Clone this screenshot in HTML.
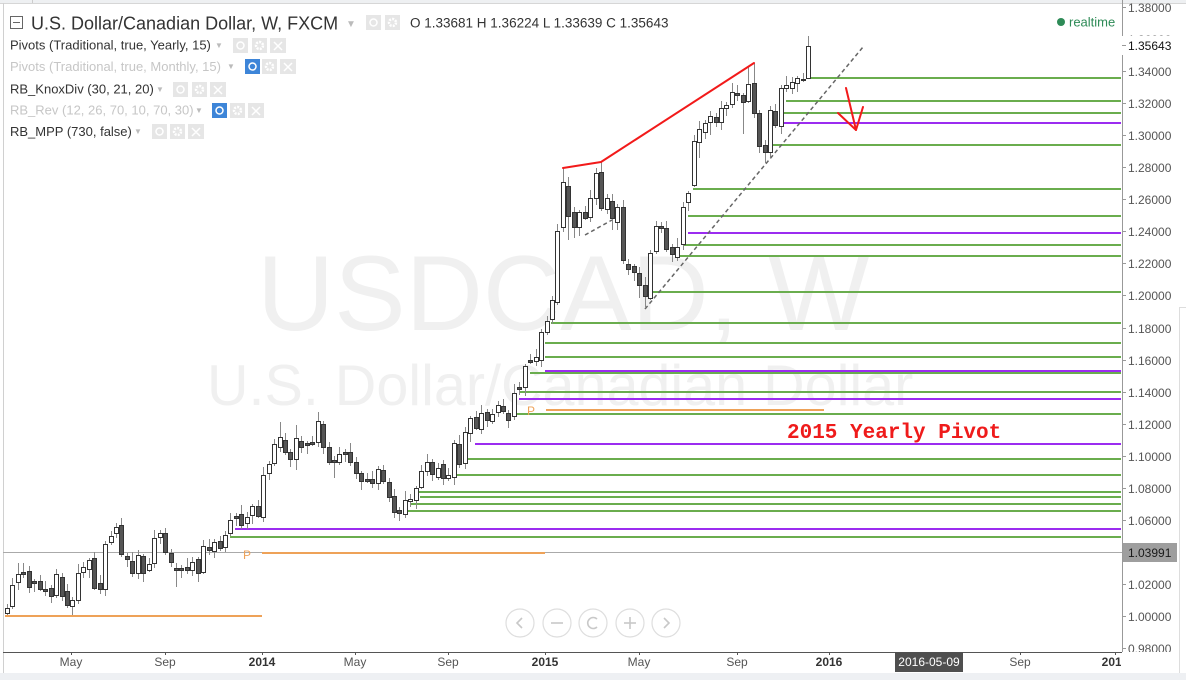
<!DOCTYPE html>
<html><head><meta charset="utf-8"><style>
html,body{margin:0;padding:0;background:#fff;}
svg{display:block;font-family:"Liberation Sans",Arial,sans-serif;}
</style></head><body>
<svg width="1186" height="680" viewBox="0 0 1186 680" xmlns="http://www.w3.org/2000/svg">
<defs><clipPath id="ax"><rect x="1123" y="0" width="63" height="652"/></clipPath>
<clipPath id="xa"><rect x="0" y="640" width="1121" height="40"/></clipPath></defs>
<rect width="1186" height="680" fill="#fff"/>
<!-- frame -->
<rect x="0" y="0" width="1186" height="3" fill="#eef0f2"/>
<line x1="0" y1="3.5" x2="1186" y2="3.5" stroke="#d6d6d6"/>
<line x1="32.5" y1="0" x2="32.5" y2="3" stroke="#ccc"/>
<line x1="3.5" y1="3" x2="3.5" y2="680" stroke="#d0d0d0"/>
<rect x="0" y="673" width="1186" height="7" fill="#eef0f3"/>
<line x1="1179.5" y1="307" x2="1179.5" y2="673" stroke="#ddd"/>
<line x1="1179" y1="307.5" x2="1186" y2="307.5" stroke="#ddd"/>
<!-- watermark -->
<text x="257" y="330" font-size="107" fill="#f0f0f0">USDCAD, W</text>
<text x="207" y="405" font-size="57.5" fill="#f0f0f0">U.S. Dollar/Canadian Dollar</text>
<line x1="3" y1="552.5" x2="1122" y2="552.5" stroke="#aaa" stroke-width="1"/>
<!-- pivot lines -->
<g stroke-width="2" fill="none" shape-rendering="crispEdges">
<g stroke="#6aad4e">
<path d="M810 78H1121M786 101H1121M784 113H1121M773 145H1121M693 189H1121M688 216H1121M683 245H1121M680 256H1121M653 292H1121M551 323H1121M545 343H1121M545 357H1121M530 373H1121M520 392H1121M517 414H1121M467 459H1121M457 475H1121M418 492H1121M420 497H1121M410 504H1121M408 511H1121M230 537H1121"/>
</g>
<g stroke="#9b2cf0">
<path d="M783 123H1121M688 233H1121M545 371H1121M519 399H1121M475 444H1121M235 529H1121"/>
</g>
<g stroke="#eea258">
<path d="M546 410H824M262 553H545M5 616H262"/>
</g>
</g>
<text x="527" y="415" font-size="12" fill="#eea258">P</text>
<text x="243" y="559" font-size="12" fill="#eea258">P</text>
<!-- wicks -->
<path fill="none" stroke="#888" stroke-width="1" d="M7.5 604V615M12.5 578V609M18.5 563V590M23.5 563V578M29.5 566V593M34.5 579V592M40.5 575V591M45.5 581V596M51.5 585V603M56.5 569V598M62.5 573V601M67.5 584V608M72.5 597V615M78.5 564V604M83.5 562V578M89.5 558V578M94.5 552V590M100.5 575V594M105.5 541V596M111.5 531V545M116.5 523V538M121.5 518V557M127.5 553V567M132.5 552V577M138.5 550V579M143.5 554V582M149.5 558V572M154.5 530V568M160.5 530V544M165.5 528V555M171.5 549V567M176.5 563V587M181.5 565V578M187.5 558V574M192.5 557V576M198.5 557V582M203.5 540V574M209.5 539V555M214.5 539V558M220.5 536V551M225.5 531V552M230.5 513V536M236.5 513V526M241.5 505V529M247.5 512V529M252.5 504V524M258.5 500V518M263.5 467V522M269.5 461V480M274.5 439V466M280.5 422V452M285.5 433V455M290.5 449V467M296.5 425V470M301.5 436V453M307.5 441V454M312.5 436V446M318.5 412V447M323.5 421V454M329.5 442V465M334.5 456V478M339.5 447V465M345.5 449V462M350.5 443V466M356.5 457V479M361.5 471V490M367.5 473V483M372.5 471V488M378.5 466V490M383.5 465V484M389.5 478V502M394.5 489V518M399.5 507V521M405.5 491V518M410.5 494V507M416.5 486V509M421.5 465V489M427.5 454V476M432.5 459V481M438.5 463V480M443.5 460V485M448.5 468V481M454.5 440V485M459.5 435V468M465.5 427V469M470.5 416V442M476.5 411V430M481.5 405V434M487.5 409V427M492.5 409V424M498.5 401V417M503.5 399V414M508.5 410V428M514.5 384V420M519.5 382V395M525.5 364V396M530.5 354V364M536.5 349V366M541.5 329V367M547.5 316V335M552.5 296V324M557.5 224V305M563.5 168V232M568.5 177V240M574.5 207V238M579.5 210V236M585.5 206V220M590.5 190V222M596.5 168V205M601.5 162V211M607.5 194V214M612.5 194V230M617.5 204V230M623.5 200V264M628.5 259V275M634.5 264V281M639.5 267V298M645.5 277V307M650.5 250V300M656.5 221V254M661.5 222V233M666.5 221V252M672.5 244V262M677.5 238V261M683.5 202V250M688.5 191V211M694.5 135V187M699.5 121V158M705.5 120V139M710.5 111V135M716.5 113V127M721.5 101V130M726.5 102V116M732.5 83V108M737.5 85V101M743.5 93V134M748.5 66V103M754.5 63V118M759.5 110V153M765.5 140V163M770.5 106V157M775.5 104V128M781.5 85V134M786.5 76V92M792.5 77V94M797.5 76V92M803.5 73V82M808.5 36V78"/>
<!-- up bodies -->
<path fill="#fff" stroke="#333" stroke-width="1" d="M5.5 608.5h4v5h-4zM10.5 585.5h4v21h-4zM16.5 574.5h4v8h-4zM54.5 574.5h4v21h-4zM70.5 600.5h4v6h-4zM76.5 573.5h4v27h-4zM81.5 567.5h4v5h-4zM87.5 560.5h4v9h-4zM103.5 544.5h4v45h-4zM109.5 536.5h4v6h-4zM114.5 527.5h4v6h-4zM136.5 555.5h4v18h-4zM147.5 564.5h4v6h-4zM152.5 538.5h4v25h-4zM158.5 533.5h4v4h-4zM190.5 562.5h4v8h-4zM201.5 546.5h4v26h-4zM212.5 542.5h4v9h-4zM223.5 535.5h4v12h-4zM228.5 520.5h4v13h-4zM245.5 517.5h4v6h-4zM250.5 506.5h4v9h-4zM261.5 475.5h4v42h-4zM267.5 464.5h4v9h-4zM272.5 444.5h4v19h-4zM278.5 437.5h4v10h-4zM294.5 438.5h4v21h-4zM316.5 421.5h4v21h-4zM337.5 454.5h4v8h-4zM376.5 469.5h4v14h-4zM403.5 500.5h4v14h-4zM408.5 499.5h4v2h-4zM414.5 488.5h4v12h-4zM419.5 471.5h4v16h-4zM425.5 462.5h4v9h-4zM436.5 468.5h4v9h-4zM446.5 475.5h4v3h-4zM452.5 443.5h4v34h-4zM463.5 432.5h4v31h-4zM468.5 418.5h4v15h-4zM479.5 413.5h4v16h-4zM490.5 414.5h4v7h-4zM496.5 405.5h4v7h-4zM512.5 393.5h4v23h-4zM523.5 366.5h4v21h-4zM534.5 357.5h4v4h-4zM539.5 332.5h4v28h-4zM545.5 321.5h4v11h-4zM550.5 300.5h4v19h-4zM555.5 231.5h4v71h-4zM561.5 182.5h4v45h-4zM577.5 212.5h4v15h-4zM588.5 198.5h4v19h-4zM594.5 173.5h4v25h-4zM605.5 198.5h4v11h-4zM615.5 207.5h4v15h-4zM648.5 253.5h4v45h-4zM654.5 226.5h4v25h-4zM675.5 247.5h4v10h-4zM681.5 207.5h4v37h-4zM686.5 193.5h4v9h-4zM692.5 141.5h4v44h-4zM697.5 129.5h4v13h-4zM703.5 123.5h4v9h-4zM708.5 116.5h4v6h-4zM719.5 108.5h4v14h-4zM724.5 105.5h4v3h-4zM730.5 92.5h4v12h-4zM746.5 84.5h4v17h-4zM768.5 110.5h4v42h-4zM779.5 88.5h4v38h-4zM784.5 85.5h4v3h-4zM790.5 82.5h4v6h-4zM795.5 78.5h4v5h-4zM806.5 46.5h4v32h-4z"/>
<!-- down bodies -->
<path fill="#555" stroke="#333" stroke-width="1" d="M21.5 572.5h4v2h-4zM27.5 571.5h4v16h-4zM32.5 581.5h4v2h-4zM38.5 581.5h4v8h-4zM43.5 589.5h4v2h-4zM49.5 588.5h4v8h-4zM60.5 577.5h4v19h-4zM65.5 591.5h4v14h-4zM92.5 558.5h4v30h-4zM98.5 583.5h4v6h-4zM119.5 525.5h4v29h-4zM125.5 556.5h4v3h-4zM130.5 561.5h4v12h-4zM141.5 556.5h4v17h-4zM163.5 533.5h4v19h-4zM169.5 553.5h4v9h-4zM174.5 568.5h4v2h-4zM179.5 568.5h4v2h-4zM185.5 567.5h4v3h-4zM196.5 559.5h4v14h-4zM207.5 547.5h4v3h-4zM218.5 541.5h4v7h-4zM234.5 516.5h4v2h-4zM239.5 514.5h4v11h-4zM256.5 506.5h4v10h-4zM283.5 440.5h4v12h-4zM288.5 452.5h4v7h-4zM299.5 441.5h4v6h-4zM305.5 443.5h4v2h-4zM310.5 442.5h4v2h-4zM321.5 424.5h4v23h-4zM327.5 447.5h4v15h-4zM332.5 460.5h4v2h-4zM343.5 452.5h4v2h-4zM348.5 452.5h4v10h-4zM354.5 462.5h4v11h-4zM359.5 473.5h4v8h-4zM365.5 479.5h4v2h-4zM370.5 479.5h4v4h-4zM381.5 470.5h4v11h-4zM387.5 482.5h4v15h-4zM392.5 496.5h4v16h-4zM397.5 510.5h4v3h-4zM430.5 462.5h4v12h-4zM441.5 464.5h4v14h-4zM457.5 444.5h4v20h-4zM474.5 417.5h4v11h-4zM485.5 412.5h4v8h-4zM501.5 406.5h4v5h-4zM506.5 413.5h4v7h-4zM517.5 387.5h4v2h-4zM528.5 360.5h4v2h-4zM566.5 186.5h4v30h-4zM572.5 212.5h4v15h-4zM583.5 212.5h4v6h-4zM599.5 172.5h4v36h-4zM610.5 201.5h4v17h-4zM621.5 207.5h4v53h-4zM626.5 264.5h4v5h-4zM632.5 266.5h4v6h-4zM637.5 273.5h4v12h-4zM643.5 285.5h4v11h-4zM659.5 226.5h4v2h-4zM664.5 228.5h4v21h-4zM670.5 247.5h4v7h-4zM714.5 117.5h4v5h-4zM735.5 93.5h4v2h-4zM741.5 95.5h4v7h-4zM752.5 83.5h4v30h-4zM757.5 113.5h4v33h-4zM763.5 145.5h4v7h-4zM773.5 111.5h4v14h-4zM801.5 79.5h4v1h-4z"/>
<!-- trend lines -->
<g stroke="#666" stroke-width="1.5" stroke-dasharray="4 3" fill="none">
<line x1="645" y1="309" x2="863" y2="47"/>
<line x1="585" y1="235" x2="612" y2="220"/>
</g>
<g stroke="#f21a1a" stroke-width="2" fill="none" stroke-linecap="round" stroke-linejoin="round">
<polyline points="563,168 601,162 754,63"/>
<line x1="846" y1="88" x2="856" y2="130"/>
<polyline points="838,113 856,130 863,107"/>
</g>
<text x="787" y="438" font-family="Liberation Mono, monospace" font-weight="bold" font-size="21" fill="#ef1b1b">2015 Yearly Pivot</text>
<!-- price axis -->
<line x1="1122.5" y1="0" x2="1122.5" y2="652" stroke="#999"/>
<g clip-path="url(#ax)" font-size="12" fill="#555">
<path stroke="#999" d="M1123 7.5h3M1123 39.5h3M1123 71.5h3M1123 103.5h3M1123 135.5h3M1123 167.5h3M1123 199.5h3M1123 231.5h3M1123 263.5h3M1123 295.5h3M1123 328.5h3M1123 360.5h3M1123 392.5h3M1123 424.5h3M1123 456.5h3M1123 488.5h3M1123 520.5h3M1123 584.5h3M1123 616.5h3M1123 648.5h3"/>
<text x="1128" y="12">1.38000</text>
<text x="1128" y="44">1.36000</text>
<text x="1128" y="76">1.34000</text>
<text x="1128" y="108">1.32000</text>
<text x="1128" y="140">1.30000</text>
<text x="1128" y="172">1.28000</text>
<text x="1128" y="204">1.26000</text>
<text x="1128" y="236">1.24000</text>
<text x="1128" y="268">1.22000</text>
<text x="1128" y="300">1.20000</text>
<text x="1128" y="333">1.18000</text>
<text x="1128" y="365">1.16000</text>
<text x="1128" y="397">1.14000</text>
<text x="1128" y="429">1.12000</text>
<text x="1128" y="461">1.10000</text>
<text x="1128" y="493">1.08000</text>
<text x="1128" y="525">1.06000</text>
<text x="1128" y="589">1.02000</text>
<text x="1128" y="621">1.00000</text>
<text x="1128" y="653">0.98000</text>
</g>
<rect x="1120" y="36" width="58" height="19" fill="#fff"/>
<line x1="1122" y1="45.5" x2="1126" y2="45.5" stroke="#999"/>
<text x="1128" y="50" font-size="12" fill="#111">1.35643</text>
<rect x="1123" y="543" width="54" height="19" fill="#9e9e9e"/>
<text x="1128" y="557" font-size="12" fill="#1a1a1a">1.03991</text>
<!-- time axis -->
<line x1="3" y1="652.5" x2="1122" y2="652.5" stroke="#555"/>
<g clip-path="url(#xa)">
<path stroke="#555" d="M71.5 652v3M165.5 652v3M262.5 652v3M355.5 652v3M448.5 652v3M545.5 652v3M639.5 652v3M737.5 652v3M829.5 652v3M1020.5 652v3M1115.5 652v3"/>
<g font-size="12" fill="#555" text-anchor="middle">
<text x="71" y="666">May</text>
<text x="165" y="666">Sep</text>
<text x="355" y="666">May</text>
<text x="448" y="666">Sep</text>
<text x="639" y="666">May</text>
<text x="737" y="666">Sep</text>
<text x="1020" y="666">Sep</text>
</g>
<g font-size="12" fill="#333" font-weight="bold" text-anchor="middle">
<text x="262" y="666">2014</text>
<text x="545" y="666">2015</text>
<text x="829" y="666">2016</text>
<text x="1115" y="666">2017</text>
</g>
</g>
<rect x="895" y="652" width="68" height="20" fill="#4f4f4f"/>
<text x="929" y="666" font-size="12" fill="#fff" text-anchor="middle">2016-05-09</text>
<!-- nav buttons -->
<g fill="#fff" stroke="#dedede" stroke-width="1.2">
<circle cx="520" cy="623" r="14"/><circle cx="557" cy="623" r="14"/><circle cx="593" cy="623" r="14"/><circle cx="630" cy="623" r="14"/><circle cx="666" cy="623" r="14"/>
</g>
<g fill="none" stroke="#c8c8c8" stroke-width="1.6">
<polyline points="522,618 517,623 522,628"/>
<line x1="551" y1="623" x2="563" y2="623"/>
<path d="M597 619A5.5 5.5 0 1 0 597 627"/>
<line x1="624" y1="623" x2="636" y2="623"/><line x1="630" y1="617" x2="630" y2="629"/>
<polyline points="664,618 669,623 664,628"/>
</g>
<!-- legend -->
<rect x="10.5" y="16.5" width="12" height="12" fill="none" stroke="#666"/>
<line x1="13" y1="22.5" x2="20" y2="22.5" stroke="#666"/>
<text x="31" y="29.5" font-size="18" fill="#333">U.S. Dollar/Canadian Dollar, W, FXCM</text>
<text x="346" y="27" font-size="10" fill="#bbb">▼</text>
<g fill="#e6e6e6"><rect x="366" y="15" width="15" height="15"/><rect x="385" y="15" width="15" height="15"/></g>
<g fill="none" stroke="#fff" stroke-width="1.5"><circle cx="373.5" cy="22.5" r="3.5"/><circle cx="392.5" cy="22.5" r="3.5" stroke-dasharray="2 1.2" stroke-width="2.5"/></g>
<text x="410" y="27.5" font-size="13.5" fill="#333">O 1.33681  H 1.36224  L 1.33639  C 1.35643</text>
<circle cx="1061" cy="22" r="4" fill="#2e8b57"/>
<text x="1069" y="26.5" font-size="13" fill="#2e8b57">realtime</text>
<g font-size="13">
<text x="10" y="49.5" fill="#333">Pivots (Traditional, true, Yearly, 15)</text>
<text x="10" y="71" fill="#c6c6c6">Pivots (Traditional, true, Monthly, 15)</text>
<text x="10" y="93.5" fill="#333">RB_KnoxDiv (30, 21, 20)</text>
<text x="10" y="114.5" fill="#c6c6c6">RB_Rev (12, 26, 70, 10, 70, 30)</text>
<text x="10" y="136" fill="#333">RB_MPP (730, false)</text>
</g>
<g font-size="8" fill="#bbb">
<text x="215" y="48">▼</text><text x="227" y="69">▼</text><text x="156" y="92">▼</text><text x="195" y="113">▼</text><text x="134" y="134">▼</text>
</g>
<g fill="#e6e6e6">
<rect x="233" y="38" width="15" height="15"/><rect x="252" y="38" width="15" height="15"/><rect x="270" y="38" width="16" height="15"/>
<rect x="262" y="59" width="15" height="15"/><rect x="280" y="59" width="16" height="15"/>
<rect x="173" y="82" width="15" height="15"/><rect x="192" y="82" width="15" height="15"/><rect x="210" y="82" width="16" height="15"/>
<rect x="230" y="103" width="15" height="15"/><rect x="248" y="103" width="16" height="15"/>
<rect x="152" y="124" width="15" height="15"/><rect x="170" y="124" width="15" height="15"/><rect x="188" y="124" width="16" height="15"/>
</g>
<g fill="#3d85d8"><rect x="245" y="59" width="15" height="15"/><rect x="212" y="103" width="15" height="15"/></g>
<g fill="none" stroke="#fff" stroke-width="1.5">
<circle cx="240.5" cy="45.5" r="3.5"/><circle cx="252.5" cy="66.5" r="3.5"/><circle cx="180.5" cy="89.5" r="3.5"/><circle cx="219.5" cy="110.5" r="3.5"/><circle cx="159.5" cy="131.5" r="3.5"/>
</g>
<g fill="none" stroke="#fff" stroke-width="2.5" stroke-dasharray="2 1.2">
<circle cx="259.5" cy="45.5" r="3.5"/><circle cx="269.5" cy="66.5" r="3.5"/><circle cx="199.5" cy="89.5" r="3.5"/><circle cx="237.5" cy="110.5" r="3.5"/><circle cx="177.5" cy="131.5" r="3.5"/>
</g>
<g stroke="#fff" stroke-width="1.5">
<path d="M274 42l8 8M282 42l-8 8M284 63l8 8M292 63l-8 8M214 86l8 8M222 86l-8 8M252 107l8 8M260 107l-8 8M192 128l8 8M200 128l-8 8"/>
</g>
</svg>
</body></html>
